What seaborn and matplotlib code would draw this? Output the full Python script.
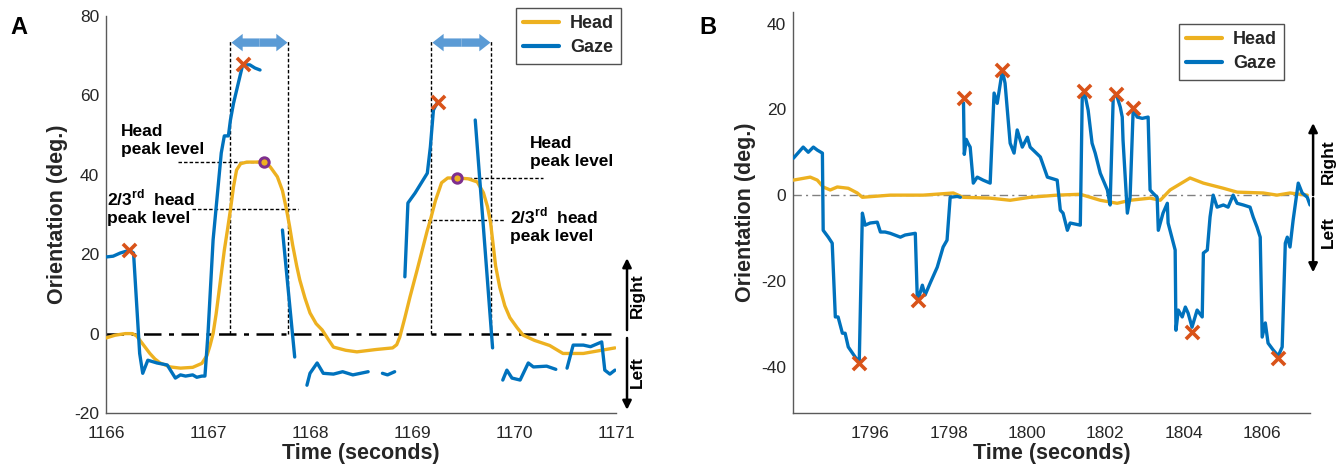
import numpy as np
import pandas as pd
import matplotlib
matplotlib.use('Agg')
import matplotlib.pyplot as plt
import matplotlib.patches as mpatches
import matplotlib.transforms as mtransforms
from matplotlib.lines import Line2D
import seaborn as sns

sns.set_theme(style='white')
plt.rcParams['font.family'] = ['Liberation Sans', 'DejaVu Sans']
plt.rcParams['mathtext.fontset'] = 'custom'
plt.rcParams['mathtext.rm'] = 'Liberation Sans'
plt.rcParams['mathtext.bf'] = 'Liberation Sans:bold'
plt.rcParams['axes.unicode_minus'] = False

HEAD_C = '#EDB120'
GAZE_C = '#0072BD'
PEAK_C = '#D95319'
PURP_C = '#7E2F8E'
AX_C = '#5a5a5a'
TXT_C = '#262626'

# ---------------- Panel A data ----------------
head_a_t = [1166.00, 1166.09, 1166.19, 1166.26, 1166.30, 1166.33, 1166.38, 1166.43, 1166.48, 1166.53,
            1166.63, 1166.73, 1166.85, 1166.94, 1166.99, 1167.02, 1167.05, 1167.08, 1167.12, 1167.16,
            1167.19, 1167.22, 1167.25, 1167.28, 1167.32, 1167.38, 1167.47, 1167.55, 1167.61, 1167.68,
            1167.73, 1167.77, 1167.80, 1167.83, 1167.87, 1167.90, 1167.95, 1168.00, 1168.06, 1168.12,
            1168.18, 1168.23, 1168.35, 1168.46, 1168.65, 1168.81, 1168.85, 1168.88, 1168.93, 1168.98,
            1169.05, 1169.10, 1169.15, 1169.18, 1169.23, 1169.29, 1169.35, 1169.44, 1169.55, 1169.64,
            1169.70, 1169.74, 1169.77, 1169.79, 1169.82, 1169.86, 1169.91, 1169.96, 1170.03, 1170.09,
            1170.20, 1170.35, 1170.48, 1170.68, 1170.99]
head_a_v = [-1.1, -0.4, 0.0, 0.0, -0.6, -1.6, -3.3, -5.0, -6.4, -7.4,
            -8.4, -8.7, -8.5, -7.5, -5.5, -3.0, 0.0, 5.0, 13.0, 21.0,
            26.0, 31.2, 37.0, 41.2, 42.8, 43.2, 43.2, 43.3, 42.0, 39.5,
            36.0, 31.2, 27.0, 22.3, 17.0, 13.5, 9.0, 5.2, 2.5, 0.9,
            -1.5, -3.4, -4.2, -4.6, -4.0, -3.6, -2.8, -0.9, 4.0, 9.2,
            16.0, 21.0, 26.0, 28.6, 33.5, 38.0, 39.2, 39.2, 39.0, 38.2,
            35.5, 32.0, 28.0, 23.6, 17.0, 11.7, 7.0, 4.0, 1.5, -0.4,
            -1.7, -3.0, -5.0, -5.0, -3.6]

gaze_a_t = [1166.00, 1166.07, 1166.14, 1166.23, 1166.27, 1166.33, 1166.36, 1166.41, 1166.50, 1166.60,
            1166.68, 1166.73, 1166.78, 1166.85, 1166.89, 1166.94, 1166.97, 1167.00, 1167.05, 1167.13,
            1167.16, 1167.20, 1167.22, 1167.25, 1167.30, 1167.34, 1167.41, 1167.46, 1167.51,
            1167.73, 1167.85,
            1167.97, 1168.00, 1168.07, 1168.13, 1168.23, 1168.32, 1168.42, 1168.57,
            1168.71, 1168.76, 1168.83,
            1168.93, 1168.96, 1169.03, 1169.15, 1169.18, 1169.21, 1169.25,
            1169.62, 1169.79,
            1169.89, 1169.93, 1169.98, 1170.06, 1170.14, 1170.19, 1170.32, 1170.41,
            1170.52, 1170.58, 1170.68, 1170.75, 1170.86, 1170.89, 1170.94, 1170.99]
gaze_a_v = [19.3, 19.5, 20.3, 21.0, 20.3, -5.0, -10.0, -6.7, -7.4, -7.9,
            -11.2, -10.4, -10.7, -10.4, -11.0, -10.7, -10.7, 0.0, 23.6, 45.5,
            49.8, 49.8, 53.8, 58.0, 63.4, 67.7, 67.7, 66.9, 66.4,
            26.1, -5.9,
            -13.0, -10.0, -7.4, -10.0, -10.2, -9.6, -10.4, -9.6,
            -10.0, -10.4, -9.6,
            14.3, 32.9, 35.4, 40.4, 47.0, 56.3, 58.3,
            53.8, -3.6,
            -11.7, -9.2, -11.2, -11.7, -7.4, -8.4, -8.2, -9.0,
            -8.7, -2.9, -2.9, -3.3, -2.1, -9.2, -10.2, -9.2]
gaze_a_seg = [0] * 29 + [1] * 2 + [2] * 8 + [3] * 3 + [4] * 7 + [5] * 2 + [6] * 8 + [7] * 8

peak_a_t = [1166.23, 1167.34, 1169.25]
peak_a_v = [21.1, 67.9, 58.3]
headpk_a_t = [1167.55, 1169.44]
headpk_a_v = [43.3, 39.2]

# ---------------- Panel B data ----------------
head_b_t = [1794.04, 1794.47, 1794.65, 1794.80, 1794.98, 1795.16, 1795.44, 1795.67, 1795.80, 1796.51,
            1797.35, 1798.12, 1798.37, 1799.06, 1799.57, 1800.08, 1800.77, 1801.36, 1801.87, 1802.30,
            1802.63, 1803.14, 1803.40, 1803.65, 1804.16, 1804.50, 1805.01, 1805.36, 1806.03, 1806.38,
            1806.71, 1807.15]
head_b_v = [3.5, 4.2, 3.5, 1.9, 1.2, 1.9, 1.6, 0.5, -0.5, 0.0,
            0.0, 0.5, -0.5, -0.7, -1.2, -0.5, 0.0, 0.2, -1.2, -1.9,
            -1.2, -0.7, -1.2, 1.2, 4.0, 2.8, 1.6, 0.7, 0.5, 0.0,
            0.5, 0.0]

gaze_b_t = [1794.04, 1794.29, 1794.42, 1794.55, 1794.65, 1794.78, 1794.80, 1794.93, 1795.03, 1795.11,
            1795.18, 1795.29, 1795.36, 1795.44, 1795.62, 1795.72, 1795.80, 1795.87, 1796.00, 1796.18,
            1796.26, 1796.38, 1796.51, 1796.77, 1796.89, 1797.15, 1797.20, 1797.22, 1797.33, 1797.40,
            1797.53, 1797.71, 1797.86, 1797.96, 1798.04, 1798.22, 1798.30,
            1798.38, 1798.40, 1798.45, 1798.50, 1798.55, 1798.63, 1798.73, 1798.88, 1799.06, 1799.16,
            1799.24, 1799.32, 1799.37, 1799.44, 1799.57, 1799.67, 1799.75, 1799.88, 1800.01, 1800.08,
            1800.34, 1800.52, 1800.77, 1800.85, 1800.92, 1801.03, 1801.10, 1801.36, 1801.41, 1801.46,
            1801.56, 1801.66, 1801.74, 1801.87, 1802.05, 1802.12, 1802.20, 1802.28, 1802.38, 1802.43,
            1802.45, 1802.56, 1802.63, 1802.71, 1802.81, 1802.94, 1803.09, 1803.14, 1803.21, 1803.32,
            1803.35, 1803.47, 1803.58, 1803.60, 1803.78, 1803.80, 1803.86, 1803.96, 1804.04, 1804.11,
            1804.21, 1804.34, 1804.47, 1804.50, 1804.60, 1804.67, 1804.75, 1804.85, 1805.01, 1805.13,
            1805.26, 1805.36, 1805.52, 1805.69, 1805.77, 1805.87, 1805.95, 1806.00, 1806.08, 1806.15,
            1806.28, 1806.41, 1806.51, 1806.59, 1806.64, 1806.71, 1806.79, 1806.92, 1807.02, 1807.15,
            1807.22]
gaze_b_v = [8.6, 11.2, 10.0, 11.2, 10.5, 9.8, -8.2, -9.8, -11.2, -28.4,
            -28.4, -32.2, -32.2, -35.4, -37.8, -39.0, -4.2, -7.0, -6.5, -6.3,
            -8.6, -8.6, -8.9, -9.8, -9.3, -8.9, -23.8, -24.5, -21.0, -23.3,
            -20.5, -16.8, -12.1, -10.5, -0.5, -0.3, -0.5,
            21.5, 9.5, 13.0, 12.0, 11.2, 2.8, 4.2, 3.5, 2.8, 23.8,
            21.4, 26.1, 29.1, 26.1, 12.1, 9.8, 15.2, 11.2, 13.5, 11.2,
            8.9, 4.2, 3.5, -3.5, -4.2, -8.2, -6.5, -7.0, 23.3, 24.2,
            19.8, 12.1, 9.8, 5.1, 1.2, -2.3, 22.8, 23.5, 20.5, 18.2,
            12.8, -4.2, -0.5, 20.3, 18.2, 17.9, 18.2, 1.2, 0.5, -0.5,
            -8.2, -4.2, -1.9, -6.5, -12.8, -31.5, -26.8, -28.4, -26.1, -27.5,
            -30.8, -26.8, -28.4, -13.5, -12.8, -5.1, 0.0, -2.8, -2.3, -2.8,
            0.0, -1.9, -2.3, -2.8, -5.1, -7.5, -9.8, -33.1, -29.8, -34.5,
            -36.1, -37.5, -35.4, -11.2, -9.8, -12.1, -5.8, 2.8, 0.5, -0.5,
            -2.3]
gaze_b_seg = [0] * 37 + [1] * 91

peak_b_t = [1795.72, 1797.22, 1798.40, 1799.37, 1801.46, 1802.28, 1802.71, 1804.21, 1806.41]
peak_b_v = [-39.2, -24.5, 22.6, 29.1, 24.2, 23.5, 20.3, -31.9, -38.0]

legend_labels = ['Head', 'Gaze']


def build_df(head_t, head_v, gaze_t, gaze_v, gaze_seg):
    h = pd.DataFrame({'t': head_t, 'v': head_v, 'signal': 'Head', 'seg': 'h0'})
    g = pd.DataFrame({'t': gaze_t, 'v': gaze_v, 'signal': 'Gaze',
                      'seg': ['g%d' % s for s in gaze_seg]})
    return pd.concat([h, g], ignore_index=True)


def style_axes(ax):
    sns.despine(ax=ax)
    for s in ['left', 'bottom']:
        ax.spines[s].set_color(AX_C)
        ax.spines[s].set_linewidth(1.0)
    ax.tick_params(direction='in', length=4, width=1, colors=AX_C, labelcolor=TXT_C,
                   labelsize=12.5)
    ax.tick_params(axis='x', pad=9)
    ax.tick_params(axis='y', pad=5)
    ax.set_xlabel('Time (seconds)', fontsize=15.5, fontweight='bold', color=TXT_C, labelpad=2)
    ax.set_ylabel('Orientation (deg.)', fontsize=15.5, fontweight='bold', color=TXT_C, labelpad=4)
    ax.grid(False)


def side_arrows(ax, xa, xt, up, down, ry, ly):
    tr = mtransforms.blended_transform_factory(ax.transAxes, ax.transData)
    ap = dict(arrowstyle='-|>', color='black', lw=1.8, mutation_scale=13, shrinkA=0, shrinkB=0)
    ax.annotate('', xy=(xa, up[1]), xytext=(xa, up[0]), xycoords=tr, textcoords=tr,
                arrowprops=ap, annotation_clip=False)
    ax.annotate('', xy=(xa, down[1]), xytext=(xa, down[0]), xycoords=tr, textcoords=tr,
                arrowprops=ap, annotation_clip=False)
    ax.text(xt, ry, 'Right', transform=tr, rotation=90, ha='center', va='center',
            fontsize=12.5, fontweight='bold', color='black')
    ax.text(xt, ly, 'Left', transform=tr, rotation=90, ha='center', va='center',
            fontsize=12.5, fontweight='bold', color='black')


def add_legend(fig, ax, anchor):
    handles = [Line2D([0], [0], color=HEAD_C, lw=3), Line2D([0], [0], color=GAZE_C, lw=3)]
    leg = ax.legend(handles, legend_labels, loc='upper right', bbox_to_anchor=anchor,
                    bbox_transform=fig.transFigure, borderaxespad=0, frameon=True,
                    fancybox=False, edgecolor='#262626', handlelength=2.0,
                    handletextpad=0.6, labelspacing=0.4, borderpad=0.4,
                    prop={'weight': 'bold', 'size': 13})
    leg.get_frame().set_linewidth(1.0)
    return leg


fig = plt.figure(figsize=(13.42, 4.75), dpi=100)
axA = fig.add_axes([106 / 1342, 1 - 413 / 475, 510 / 1342, 397 / 475])
axB = fig.add_axes([793 / 1342, 1 - 413 / 475, 517 / 1342, 401 / 475])
pal = {'Head': HEAD_C, 'Gaze': GAZE_C}

# ---------------- Panel A ----------------
dfa = build_df(head_a_t, head_a_v, gaze_a_t, gaze_a_v, gaze_a_seg)
axA.axhline(0, color='black', lw=1.8, dashes=(7, 3, 2, 3), zorder=1)
sns.lineplot(data=dfa, x='t', y='v', hue='signal', units='seg', estimator=None, sort=False,
             hue_order=legend_labels, palette=pal, lw=2.4, legend=False, ax=axA, zorder=3)
# guide lines
axA.vlines([1167.22, 1167.78, 1169.19, 1169.77], 0, 73.7, colors='black', lw=1.0,
           linestyles=(0, (2.5, 1.5)), zorder=2)
axA.hlines([43.3, 31.3, 39.2, 28.6], [1166.71, 1166.84, 1169.44, 1169.10],
           [1167.55, 1167.88, 1170.28, 1169.91], colors='black', lw=1.0,
           linestyles=(0, (2.5, 1.5)), zorder=2)
# double-headed duration arrows
for x0, x1 in [(1167.23, 1167.78), (1169.20, 1169.77)]:
    xm = (x0 + x1) / 2
    for xs, xe in [(xm, x0), (xm, x1)]:
        axA.add_patch(mpatches.FancyArrow(xs, 73.3, xe - xs, 0, width=2.1, head_width=4.4,
                                          head_length=0.11, length_includes_head=True,
                                          facecolor='#5B9BD5', edgecolor='none', zorder=4,
                                          clip_on=False))
sns.scatterplot(x=peak_a_t, y=peak_a_v, marker='x', s=90, color=PEAK_C, linewidth=2.6,
                ax=axA, zorder=5, legend=False)
sns.scatterplot(x=headpk_a_t, y=headpk_a_v, marker='o', s=45, facecolor=HEAD_C,
                edgecolor=PURP_C, linewidth=2.2, ax=axA, zorder=5, legend=False)
tkw = dict(fontsize=12.5, fontweight='bold', color='black', ha='left', va='top', linespacing=1.25)
axA.text(1166.15, 52.8, 'Head\npeak level', **tkw)
axA.text(1166.01, 36.8, '2/3$^{\\mathbf{rd}}$  head\npeak level', **tkw)
axA.text(1170.16, 49.8, 'Head\npeak level', **tkw)
axA.text(1169.96, 32.2, '2/3$^{\\mathbf{rd}}$  head\npeak level', **tkw)
axA.set_xlim(1166, 1171)
axA.set_ylim(-20, 80)
axA.set_xticks([1166, 1167, 1168, 1169, 1170, 1171])
axA.set_yticks([-20, 0, 20, 40, 60, 80])
style_axes(axA)
side_arrows(axA, 1.0216, 1.041, (0.9, 19.0), (-1.1, -19.2), 9.5, -9.7)
add_legend(fig, axA, (621 / 1342, 1 - 8 / 475))

# ---------------- Panel B ----------------
dfb = build_df(head_b_t, head_b_v, gaze_b_t, gaze_b_v, gaze_b_seg)
axB.axhline(0, color='#808080', lw=1.0, dashes=(6, 3, 1.5, 3), zorder=1)
sns.lineplot(data=dfb, x='t', y='v', hue='signal', units='seg', estimator=None, sort=False,
             hue_order=legend_labels, palette=pal, lw=2.4, legend=False, ax=axB, zorder=3)
sns.scatterplot(x=peak_b_t, y=peak_b_v, marker='x', s=90, color=PEAK_C, linewidth=2.6,
                ax=axB, zorder=5, legend=False)
axB.set_xlim(1794.03, 1807.22)
axB.set_ylim(-50.8, 42.7)
axB.set_xticks([1796, 1798, 1800, 1802, 1804, 1806])
axB.set_yticks([-40, -20, 0, 20, 40])
style_axes(axB)
side_arrows(axB, 1.006, 1.035, (0.0, 16.8), (-0.7, -18.0), 7.9, -8.6)
add_legend(fig, axB, (1284 / 1342, 1 - 24 / 475))

fig.text(10 / 1342, 1 - 28 / 475, 'A', fontsize=17, fontweight='bold', color='black', va='center')
fig.text(699 / 1342, 1 - 28 / 475, 'B', fontsize=17, fontweight='bold', color='black', va='center')

fig.savefig('out.png', dpi=100)
